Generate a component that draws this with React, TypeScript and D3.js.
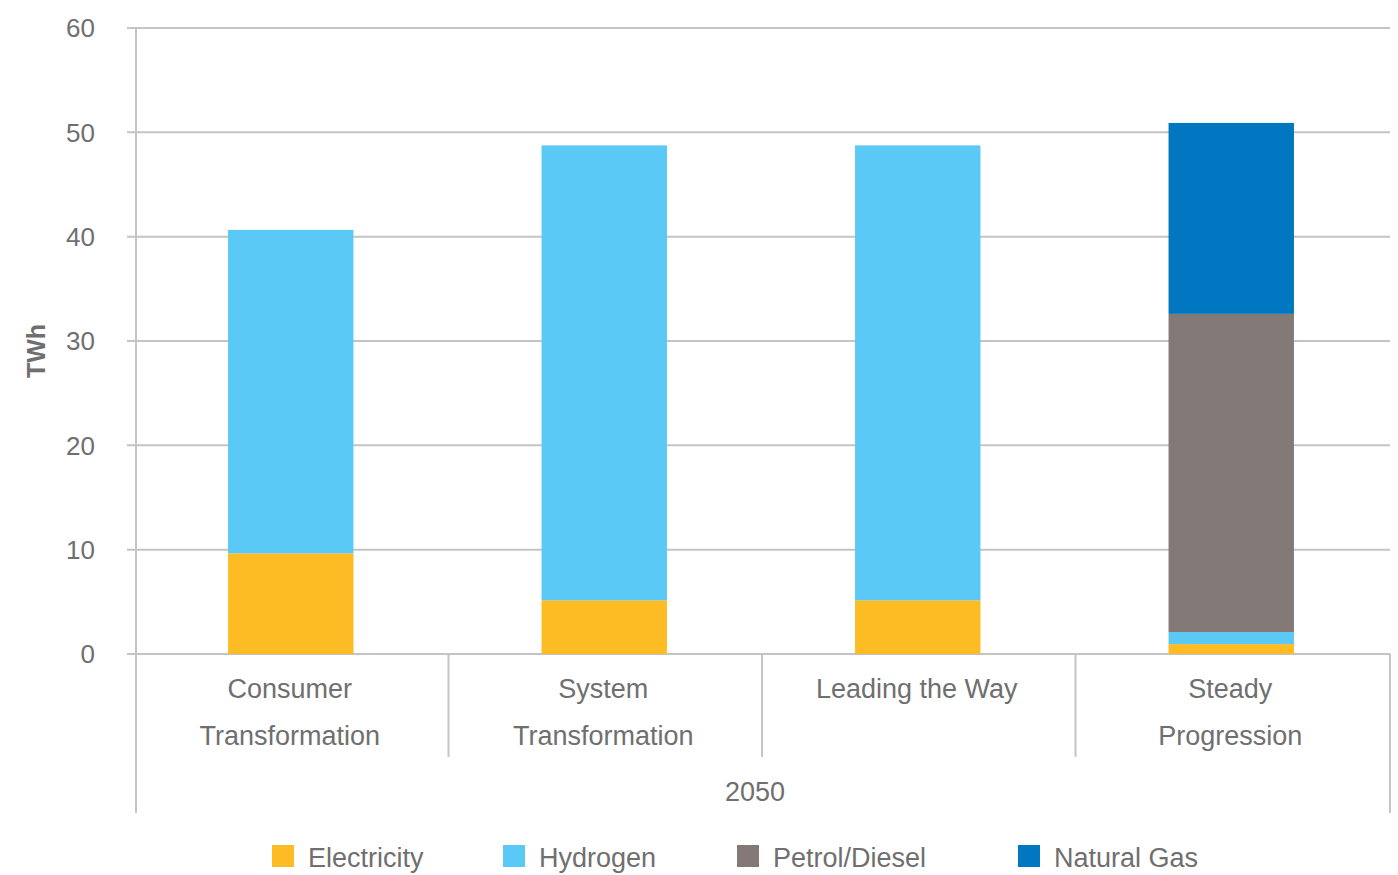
import React from "react";
import * as d3 from "d3";

const categories = ["Consumer Transformation", "System Transformation", "Leading the Way", "Steady Progression"];
const categoryLines = [["Consumer", "Transformation"], ["System", "Transformation"], ["Leading the Way"], ["Steady", "Progression"]];
const seriesNames = ["Electricity", "Hydrogen", "Petrol/Diesel", "Natural Gas"];
const electricity = [9.65, 5.15, 5.15, 0.95];
const hydrogen = [31.0, 43.6, 43.6, 1.15];
const petrolDiesel = [0, 0, 0, 30.5];
const naturalGas = [0, 0, 0, 18.3];
const yTicks = [0, 10, 20, 30, 40, 50, 60];
const groupLabel = "2050";
const colors = ["#FDBB24", "#5BC9F5", "#837A77", "#0077C0"];

const W = 1398, H = 875;
const left = 136, right = 1390, top = 28, bottom = 654;
const TXT = "#6f6f6f";
const GRID = "#c4c4c4";
const FONT = "'Liberation Sans', Arial, Helvetica, sans-serif";

export default function App() {
  const x = d3.scaleBand<string>().domain(categories).range([left, right]).paddingInner(0).paddingOuter(0);
  const y = d3.scaleLinear().domain([0, 60]).range([bottom, top]);
  const rows = categories.map((c, i) => ({
    cat: c,
    Electricity: electricity[i],
    Hydrogen: hydrogen[i],
    "Petrol/Diesel": petrolDiesel[i],
    "Natural Gas": naturalGas[i],
  }));
  const stack = d3.stack<any>().keys(seriesNames)(rows);
  const bw = x.bandwidth() * 0.4;
  const legendX = [272, 503, 737, 1018];

  return (
    <svg width={W} height={H} style={{ position: "absolute", left: 0, top: 0, background: "#fff" }}>
      {yTicks.map((t) => (
        <g key={t}>
          <line x1={127} x2={right} y1={y(t)} y2={y(t)} stroke={GRID} strokeWidth={2} />
          <text x={95} y={y(t)} dy="0.36em" textAnchor="end" fontFamily={FONT} fontSize={26} fill={TXT}>{t}</text>
        </g>
      ))}
      <line x1={left} x2={left} y1={top} y2={813} stroke={GRID} strokeWidth={2} />
      <line x1={right} x2={right} y1={bottom} y2={813} stroke={GRID} strokeWidth={2} />
      {categories.slice(1).map((c) => (
        <line key={c} x1={x(c)! - 1} x2={x(c)! - 1} y1={bottom} y2={757} stroke={GRID} strokeWidth={2} />
      ))}
      {stack.map((s, si) => (
        <g key={s.key} fill={colors[si]}>
          {s.map((d, i) => (
            d[1] - d[0] > 0 ? (
              <rect key={i} x={x(categories[i])! + (x.bandwidth() - bw) / 2 - 2} width={bw}
                y={y(d[1])} height={y(d[0]) - y(d[1])} />
            ) : null
          ))}
        </g>
      ))}
      {categories.map((c, i) => (
        <g key={c}>
          {categoryLines[i].map((ln, j) => (
            <text key={j} x={x(c)! + x.bandwidth() / 2 - 3} y={688 + j * 47} dy="0.36em" textAnchor="middle"
              fontFamily={FONT} fontSize={27} fill={TXT}>{ln}</text>
          ))}
        </g>
      ))}
      <text x={755} y={791} dy="0.36em" textAnchor="middle" fontFamily={FONT} fontSize={27} fill={TXT}>{groupLabel}</text>
      <text transform={`translate(36,${y(30) + 10}) rotate(-90)`} textAnchor="middle" dy="0.36em"
        fontFamily={FONT} fontSize={25} fontWeight="bold" fill={TXT}>TWh</text>
      {seriesNames.map((n, i) => (
        <g key={n}>
          <rect x={legendX[i]} y={845} width={22} height={22} fill={colors[i]} />
          <text x={legendX[i] + 36} y={857} dy="0.36em" fontFamily={FONT} fontSize={27} fill={TXT}>{n}</text>
        </g>
      ))}
    </svg>
  );
}
